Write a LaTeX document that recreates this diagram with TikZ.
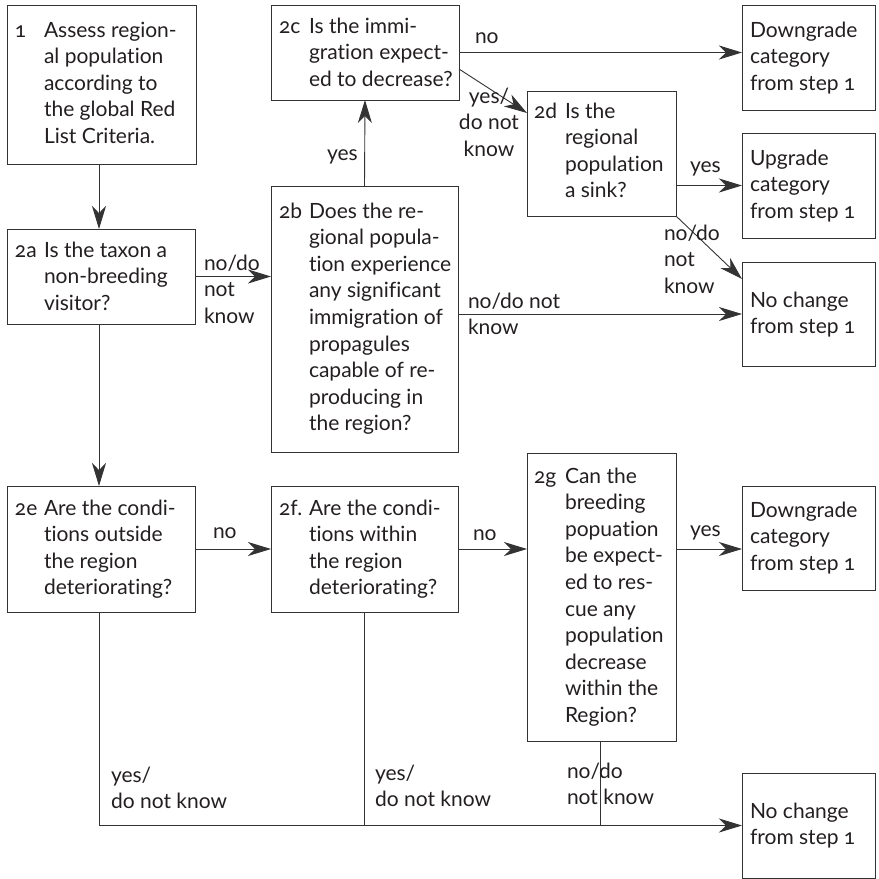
\documentclass[tikz,border=0pt]{standalone}
\usepackage{fontspec}
\setmainfont{Lato}[Numbers=OldStyle, Ligatures={NoCommon}]
\usetikzlibrary{arrows.meta,calc}
\definecolor{linecol}{HTML}{333333}
\definecolor{txtcol}{HTML}{231F20}
\newcommand\boxtxt[1]{\parbox[t]{300pt}{\raggedright #1}}
\newcommand\ctrtxt[1]{\parbox[t]{120pt}{\centering #1}}
\begin{document}
\begin{tikzpicture}[x=1pt,y=-1pt,
  every node/.style={font=\fontsize{21}{26.6}\selectfont, text=txtcol},
  box/.style={draw=linecol, line width=1pt, anchor=north west, inner sep=0pt, outer sep=0pt},
  txt/.style={anchor=base west, inner sep=0pt, outer sep=0pt},
  ctxt/.style={anchor=base, inner sep=0pt, outer sep=0pt},
  conn/.style={draw=linecol, line width=0.9pt},
  arr/.style={conn, -{Stealth[length=23pt,width=14pt,inset=7pt]}, color=linecol}]
\useasboundingbox (0,0) rectangle (879,879);
% boxes
\node[box, minimum width=189pt, minimum height=159pt] (b1) at (7,5) {};
\node[box, minimum width=188pt, minimum height=95pt] (b2a) at (7,229) {};
\node[box, minimum width=187pt, minimum height=266pt] (b2b) at (271,186) {};
\node[box, minimum width=188pt, minimum height=95pt] (b2c) at (271,5) {};
\node[box, minimum width=149pt, minimum height=125pt] (b2d) at (527,91) {};
\node[box, minimum width=133pt, minimum height=105pt] (down1) at (742,5) {};
\node[box, minimum width=133pt, minimum height=105pt] (up) at (742,133) {};
\node[box, minimum width=133pt, minimum height=104pt] (nc1) at (742,262) {};
\node[box, minimum width=188pt, minimum height=126pt] (b2e) at (7,486) {};
\node[box, minimum width=187pt, minimum height=126pt] (b2f) at (271,486) {};
\node[box, minimum width=149pt, minimum height=288pt] (b2g) at (527,453) {};
\node[box, minimum width=133pt, minimum height=104pt] (down2) at (742,486) {};
\node[box, minimum width=133pt, minimum height=105pt] (nc2) at (742,773) {};
% box texts
\node[txt] (n1) at (15,37) {1};
\node[txt] (t1) at (44,37) {\boxtxt{Assess region-\\al population\\according to\\the global Red\\List Criteria.}};
\node[txt] (n2a) at (15,257) {2a};
\node[txt] (t2a) at (44,257) {\boxtxt{Is the taxon a\\non-breeding\\visitor?}};
\node[txt] (n2b) at (279,218) {2b};
\node[txt] (t2b) at (309,218) {\boxtxt{Does the re-\\gional popula-\\tion experience\\any significant\\immigration of\\propagules\\capable of re-\\producing in\\the region?}};
\node[txt] (n2c) at (279,33) {2c};
\node[txt] (t2c) at (309,33) {\boxtxt{Is the immi-\\gration expect-\\ed to decrease?}};
\node[txt] (n2d) at (534,118) {2d};
\node[txt] (t2d) at (565,118) {\boxtxt{Is the\\regional\\population\\a sink?}};
\node[txt] (td1) at (750,37) {\boxtxt{Downgrade\\category\\from step 1}};
\node[txt] (tup) at (750,165) {\boxtxt{Upgrade\\category\\from step 1}};
\node[txt] (tnc1) at (750,307) {\boxtxt{No change\\from step 1}};
\node[txt] (n2e) at (15,515) {2e};
\node[txt] (t2e) at (44,515) {\boxtxt{Are the condi-\\tions outside\\the region\\deteriorating?}};
\node[txt] (n2f) at (279,515) {2f.};
\node[txt] (t2f) at (309,515) {\boxtxt{Are the condi-\\tions within\\the region\\deteriorating?}};
\node[txt] (n2g) at (534,483) {2g};
\node[txt] (t2g) at (565,483) {\boxtxt{Can the\\breeding\\popuation\\be expect-\\ed to res-\\cue any\\population\\decrease\\within the\\Region?}};
\node[txt] (td2) at (750,517) {\boxtxt{Downgrade\\category\\from step 1}};
\node[txt] (tnc2) at (750,818) {\boxtxt{No change\\from step 1}};
% helper coordinates
\coordinate (cx1) at (99,0);
\coordinate (cx3) at (600,0);
\coordinate (y549) at (0,549);
% connectors
\draw[arr] (b1.south -| cx1) -- (b2a.north -| cx1);
\draw[arr] (b2a.east) -- (b2a.east -| b2b.west);
\draw[arr] (b2b.north) -- (b2c.south);
\draw[arr] (b2c.east) -- (b2c.east -| down1.west);
\draw[arr] ($(b2c.north east)+(0,64)$) -- ($(b2d.north west)+(0,22)$);
\draw[arr] (up.west -| b2d.east) -- (up.west);
\draw[arr] (b2d.south east) -- ($(nc1.north west)+(0,17)$);
\draw[arr] (nc1.west -| b2b.east) -- (nc1.west);
\draw[arr] (b2a.south -| cx1) -- (b2e.north -| cx1);
\draw[arr] (b2e.east) -- (b2f.west);
\draw[arr] (b2f.east) -- (b2f.east -| b2g.west);
\draw[arr] (y549 -| b2g.east) -- (y549 -| down2.west);
\draw[arr] (b2e.south -| cx1) |- (nc2.west);
\draw[conn] (b2f.south) -- (b2f.south |- nc2.west);
\draw[conn] (b2g.south -| cx3) -- (nc2.west -| cx3);
% connector labels
\node[txt] (l2b2c) at (327,160) {yes};
\node[txt] (l2a2b) at (204,270) {\boxtxt{no/do\\not\\know}};
\node[txt] (l2cd1) at (475,43) {no};
\node[ctxt] (l2c2d) at (489,103) {\ctrtxt{yes/\\do not\\know}};
\node[txt] (l2dup) at (690,172) {yes};
\node[txt] (l2dnc) at (664,240) {\boxtxt{no/do\\not\\know}};
\node[txt] (l2bnc) at (468,308) {\boxtxt{no/do not\\know}};
\node[txt] (l2e2f) at (213,538) {no};
\node[txt] (l2f2g) at (473,540) {no};
\node[txt] (l2gd2) at (690,536) {yes};
\node[txt] (l2enc) at (111,782) {\boxtxt{yes/\\do not know}};
\node[txt] (l2fnc) at (375,780) {\boxtxt{yes/\\do not know}};
\node[txt] (l2gnc) at (567,778) {\boxtxt{no/do\\not know}};
\end{tikzpicture}
\end{document}
